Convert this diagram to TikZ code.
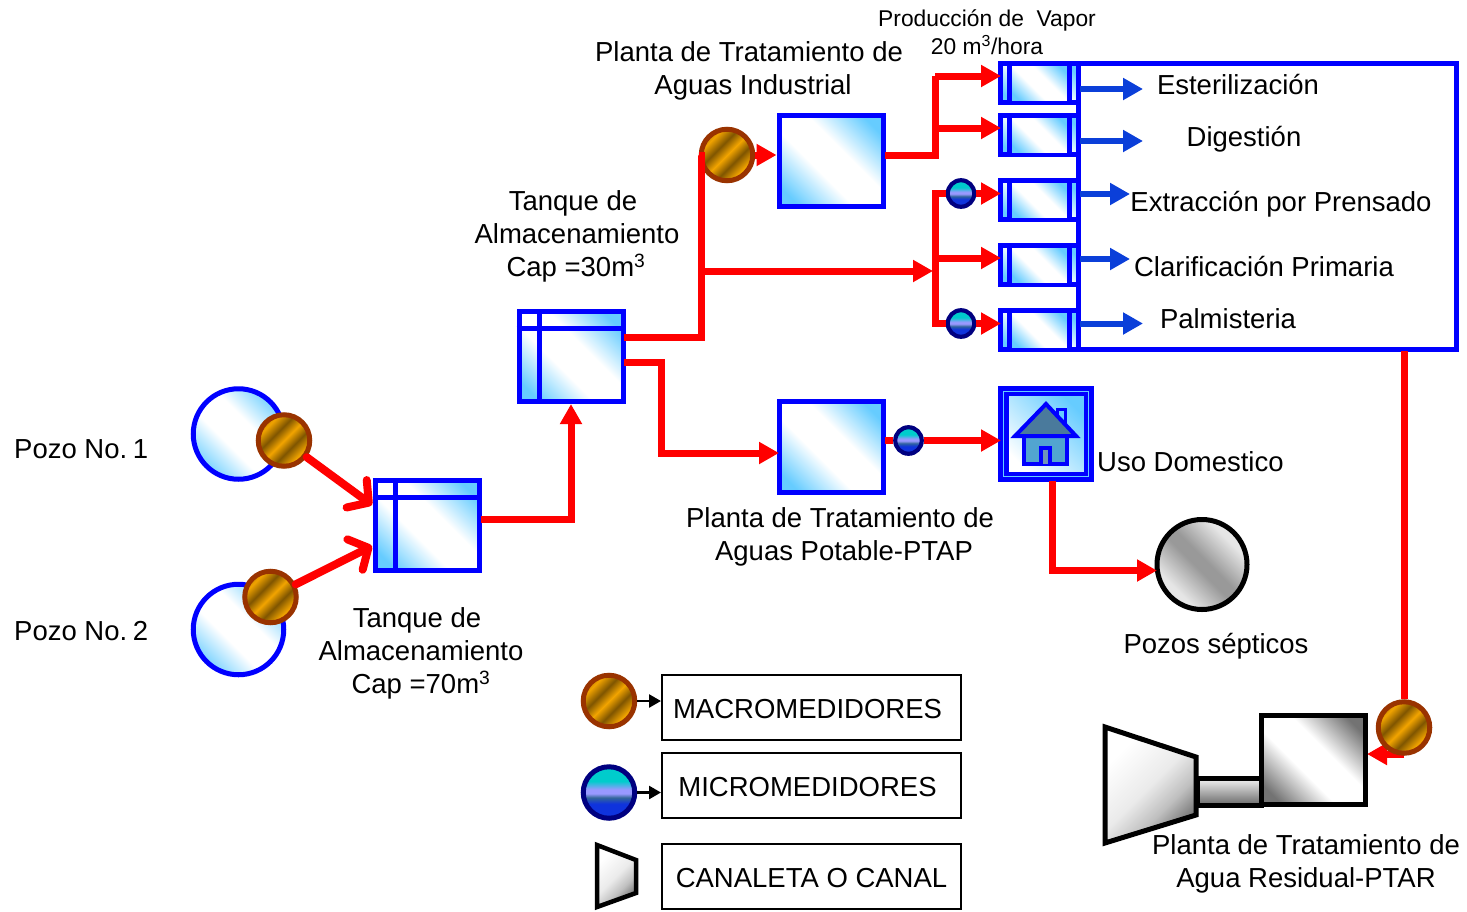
\documentclass[tikz,border=0pt]{standalone}
\usepackage{fontspec}
\setmainfont{Liberation Sans}
\usetikzlibrary{arrows.meta,calc,backgrounds}
\definecolor{lb}{HTML}{66CCFF}
\definecolor{gd}{HTML}{F2A400}
\definecolor{dk}{HTML}{7F5500}
\definecolor{flowred}{HTML}{FF0000}
\definecolor{boxblue}{HTML}{0000FF}
\definecolor{outblue}{HTML}{0B3FD9}
\definecolor{meterrim}{HTML}{993300}
\definecolor{navyrim}{HTML}{000080}
\definecolor{cy}{HTML}{00CCCC}
\definecolor{lv}{HTML}{9999FF}
\definecolor{st}{HTML}{336699}
\definecolor{bl}{HTML}{0F33DD}
\definecolor{roof}{HTML}{4A7A9C}
\definecolor{wall}{HTML}{52A5D0}
\pgfdeclareverticalshading{bluediag}{100bp}{color(0bp)=(lb);color(22bp)=(lb);color(42bp)=(white);color(58bp)=(white);color(78bp)=(lb);color(100bp)=(lb)}
\pgfdeclareverticalshading{blueup}{100bp}{color(0bp)=(white);color(25bp)=(white);color(75bp)=(lb);color(100bp)=(lb)}
\pgfdeclareverticalshading{graybox}{100bp}{color(0bp)=(black!55);color(22bp)=(black!55);color(42bp)=(white);color(58bp)=(white);color(78bp)=(black!55);color(100bp)=(black!55)}
\pgfdeclareverticalshading{graydisc}{100bp}{color(0bp)=(black!8);color(30bp)=(black!10);color(47bp)=(black!40);color(53bp)=(black!40);color(70bp)=(black!10);color(100bp)=(black!8)}
\pgfdeclareverticalshading{graypipe}{100bp}{color(0bp)=(black!60);color(25bp)=(black!60);color(75bp)=(black!5);color(100bp)=(black!5)}
\pgfdeclareverticalshading{graytrap}{100bp}{color(0bp)=(black!60);color(25bp)=(black!55);color(37bp)=(black!25);color(50bp)=(black!8);color(72bp)=(white);color(100bp)=(white)}
\pgfdeclareverticalshading{goldstripe}{100bp}{color(0bp)=(dk);color(19bp)=(dk);color(29bp)=(gd);color(40bp)=(dk);color(50bp)=(gd);color(60bp)=(dk);color(71bp)=(gd);color(81bp)=(dk);color(100bp)=(dk)}
\pgfdeclareverticalshading{microband}{100bp}{color(0bp)=(bl);color(25bp)=(bl);color(39bp)=(bl);color(45bp)=(st);color(49bp)=(lv);color(53bp)=(lv);color(61bp)=(cy);color(75bp)=(cy);color(100bp)=(cy)}
\tikzset{
  txt/.style={inner sep=0pt,align=center,font=\fontsize{27.5}{33}\selectfont},
  smalltxt/.style={inner sep=0pt,align=center,font=\fontsize{22.8}{28}\selectfont},
  bluebox/.style={draw=boxblue,line width=5pt,shade,shading=bluediag,shading angle=-45,rectangle,inner sep=0pt,minimum width=104pt,minimum height=91pt},
  wellc/.style={draw=boxblue,line width=5pt,shade,shading=bluediag,shading angle=-45,circle,inner sep=0pt,minimum size=90.5pt},
  macro/.style={draw=meterrim,line width=5pt,shade,shading=goldstripe,shading angle=45,circle,inner sep=0pt,minimum size=51.5pt},
  microbig/.style={draw=navyrim,line width=5pt,shade,shading=microband,circle,inner sep=0pt,minimum size=51.5pt},
  micro/.style={draw=navyrim,line width=4.2pt,shade,shading=microband,circle,inner sep=0pt,minimum size=26.5pt},
  legbox/.style={draw=black,line width=2pt,fill=white,rectangle,inner sep=0pt,minimum width=299pt,minimum height=65pt},
  flow/.style={draw=flowred,line width=7pt,-{Triangle[length=20pt,width=21pt]}},
  flowplain/.style={draw=flowred,line width=7pt},
  barb/.style={draw=flowred,line width=8pt,line cap=round,line join=round,-{Straight Barb[length=15pt,width=34pt,round]}},
  outflow/.style={draw=outblue,line width=6pt,-{Triangle[length=20pt,width=21pt]}},
  legarrow/.style={draw=black,line width=2.5pt,-{Triangle[length=12pt,width=13pt]}},
  innerline/.style={draw=boxblue,line width=5pt},
  blackline/.style={draw=black,line width=5pt,line join=miter}
}
\newcommand{\procbox}[2]{%
  \node[bluebox,minimum width=78.5pt,minimum height=39pt] (#1) at (1039.25,#2) {};
  \path[shade,shading=bluediag,shading angle=-45] ($(#1.center)+(-30,-17)$) rectangle ($(#1.center)+(30,17)$);
  \draw[innerline] ($(#1.north west)+(11.5,2)$) -- ($(#1.south west)+(11.5,-2)$);
  \draw[innerline] ($(#1.north east)+(-11.5,2)$) -- ($(#1.south east)+(-11.5,-2)$);
}
\begin{document}
\begin{tikzpicture}[x=1pt,y=-1pt]
\useasboundingbox (0,0) rectangle (1467,911);
% wells and tanks
\node[wellc] (w1) at (238.5,434) {};
\node[wellc] (w2) at (238.5,629.5) {};
\node[macro] (m1) at (284,440.5) {};
\node[macro] (m2) at (270.5,597) {};
\node[bluebox,minimum height=90pt] (t1) at (427.6,525.5) {};
\draw[innerline] (t1.west |- 0,497) -- (t1.east |- 0,497);
\draw[innerline] (395.5,480) -- (395.5,571);
\node[bluebox,minimum height=90.5pt] (t2) at (571,356.3) {};
\draw[innerline] (t2.west |- 0,328) -- (t2.east |- 0,328);
\draw[innerline] (539.5,311) -- (539.5,402);
% plants
\node[macro] (m3) at (727,155) {};
\node[bluebox] (p1) at (831,161) {};
\node[bluebox] (p2) at (831,447) {};
\node[micro] (u0) at (908.5,440.5) {};
\node[micro] (u1) at (961,193.5) {};
\node[micro] (u2) at (961,323.5) {};
% house
\node[draw=boxblue,line width=5pt,rectangle,inner sep=0pt,minimum width=90.5pt,minimum height=91pt,fill=lb] (h) at (1046,434) {};
\node[draw=boxblue,line width=4.5pt,rectangle,inner sep=0pt,minimum width=79.5pt,minimum height=80pt,shade,shading=blueup,shading angle=-45] (hi) at (h.center) {};
\draw[boxblue,line width=3.5pt,fill=wall] (1024,436) rectangle (1067,464);
\draw[boxblue,line width=3pt,fill=lb] (1057,409) rectangle (1065,425);
\draw[boxblue,line width=4pt,fill=roof,line join=miter] (1046,404) -- (1076,436) -- (1015,436) -- cycle;
\draw[boxblue,line width=3.5pt,fill=st!70] (1041,464) -- (1041,448) -- (1050,448) -- (1050,464);
% septic
\node[draw=black,line width=5pt,shade,shading=graydisc,shading angle=-45,circle,inner sep=0pt,minimum size=90pt] (s) at (1202,564.5) {};
% process block
\node[draw=boxblue,line width=5pt,fill=white,rectangle,inner sep=0pt,minimum width=377.5pt,minimum height=286.5pt] (big) at (1267.3,206.7) {};
\procbox{b1}{83}
\procbox{b2}{135.3}
\procbox{b3}{200.2}
\procbox{b4}{265.3}
\procbox{b5}{330.3}
% PTAR
\node[draw=black,line width=5pt,shade,shading=graypipe,rectangle,inner sep=0pt,minimum width=64pt,minimum height=27pt] (pipe) at (1229,792) {};
\node[draw=black,line width=5pt,shade,shading=graybox,shading angle=-45,rectangle,inner sep=0pt,minimum width=104pt,minimum height=89pt] (ptar) at (1313,759.5) {};
\coordinate (ta) at (1105,727);
\coordinate (tb) at (1196,757);
\coordinate (tc) at (1196,815);
\coordinate (td) at (1105,843);
\path[blackline,shade,shading=graytrap,shading angle=45,draw=black] (ta) -- (tb) -- (tc) -- (td) -- cycle;
\node[macro] (m4) at (1404,727.5) {};
% legend
\node[macro] (lm) at (609,701) {};
\node[microbig] (lu) at (609,792.5) {};
\coordinate (la) at (597,845);
\coordinate (lb) at (636,860);
\coordinate (lc) at (636,893);
\coordinate (ld) at (597,907);
\path[draw=black,line width=4.5pt,shade,shading=graytrap,shading angle=45] (la) -- (lb) -- (lc) -- (ld) -- cycle;
\node[legbox] (lb1) at (811.5,707.5) {};
\node[legbox] (lb2) at (811.5,785.5) {};
\node[legbox] (lb3) at (811.5,876.5) {};
\draw[legarrow] (lm) -- (lm -| lb1.west);
\draw[legarrow] (lu) -- (lu -| lb2.west);
% connectors
\coordinate (t1w) at (372,505);
\coordinate (t1x) at (372,546);
\draw[barb] (m1) -- (t1w);
\draw[barb] (m2) -- (t1x);
\coordinate (t1e) at (481,519);
\draw[flow] (t1e) -| (t2.south);
\coordinate (t2a) at (624,337);
\coordinate (t2b) at (624,362);
\coordinate (e1) at (701,155);
\draw[flowplain] (t2a) -| (e1) -- (m3);
\draw[flow] (m3) -- (p1.west |- m3);
\coordinate (e2) at (701,271);
\coordinate (bus2) at (933,271);
\draw[flow] (e2) -- (bus2);
\coordinate (p1e) at (885,155);
\coordinate (bus1) at (935,76);
\coordinate (bus1b) at (935,128);
\draw[flowplain] (p1e) -| (bus1);
\coordinate (b1in) at (1001,76);
\coordinate (b2in) at (1001,128);
\draw[flow] (bus1) -- (b1in);
\draw[flow] (bus1b) -- (b2in);
\coordinate (bus3) at (935,193.5);
\coordinate (bus4) at (935,323.5);
\coordinate (bus5) at (935,258);
\coordinate (b3in) at (1001,193.5);
\coordinate (b4in) at (1001,258);
\coordinate (b5in) at (1001,323.5);
\draw[flowplain] (u1) -| (bus4) -- (u2);
\draw[flow] (u1) -- (b3in);
\draw[flow] (bus5) -- (b4in);
\draw[flow] (u2) -- (b5in);
\coordinate (p2in) at (661,362);
\coordinate (p2t) at (779,453);
\draw[flow] (t2b) -| (661,453) -- (p2t);
\coordinate (p2e) at (885,440.5);
\draw[flowplain] (p2e) -- (u0);
\coordinate (hin) at (1001,440.5);
\draw[flow] (u0) -- (hin);
\coordinate (hb) at (1052,481);
\coordinate (sin) at (1157,570.5);
\draw[flow] (hb) |- (sin);
\coordinate (bo) at (1404,351);
\draw[flowplain] (bo) -- (m4);
\begin{scope}[on background layer]
\coordinate (pin) at (1367,754);
\draw[flow] (m4.center |- 0,754) -- (pin);
\end{scope}
% outflows
\coordinate (o1) at (1080,89);\coordinate (o1e) at (1143,89);
\coordinate (o2) at (1080,141);\coordinate (o2e) at (1143,141);
\coordinate (o3) at (1080,194);\coordinate (o3e) at (1130,194);
\coordinate (o4) at (1080,259);\coordinate (o4e) at (1130,259);
\coordinate (o5) at (1080,323.5);\coordinate (o5e) at (1143,323.5);
\draw[outflow] (o1) -- (o1e);
\draw[outflow] (o2) -- (o2e);
\draw[outflow] (o3) -- (o3e);
\draw[outflow] (o4) -- (o4e);
\draw[outflow] (o5) -- (o5e);
% labels
\node[txt,anchor=west] (tp1) at (14,449) {Pozo No.\kern-2pt\ 1};
\node[txt,anchor=west] (tp2) at (14,631) {Pozo No.\kern-2pt\ 2};
\node[txt] (tt1) at (421,653) {Tanque de\hspace*{8pt}\\Almacenamiento\\Cap =70m\textsuperscript{3}};
\node[txt] (tt2) at (577,236) {Tanque de\hspace*{8pt}\\Almacenamiento\\Cap =30m\textsuperscript{3}\hspace*{2pt}};
\node[txt] (tpi) at (751,70.5) {Planta de Tratamiento de\hspace*{4pt}\\\hspace*{4pt}Aguas Industrial};
\node[txt] (tpp) at (842,537) {Planta de Tratamiento de\hspace*{4pt}\\\hspace*{4pt}Aguas Potable-PTAP};
\node[smalltxt] (tv) at (987,32) {Producción de\ \ Vapor\\20 m\textsuperscript{3}/hora};
\node[txt] (l1) at (1238,85) {Esterilización};
\node[txt] (l2) at (1244,139) {Digestión};
\node[txt] (l3) at (1281,204) {Extracción por Prensado};
\node[txt] (l4) at (1264,267) {Clarificación Primaria};
\node[txt] (l5) at (1228,319) {Palmisteria};
\node[txt,anchor=west] (lu2) at (1097,462) {Uso Domestico};
\node[txt] (lps) at (1216,646) {Pozos sépticos};
\node[txt] (lpt) at (1306,863.5) {Planta de Tratamiento de\\Agua Residual-PTAR};
\node[txt] (tm1) at (807.5,709) {MACROMEDIDORES};
\node[txt] (tm2) at (807.5,787) {MICROMEDIDORES};
\node[txt] (tm3) at (811.5,878) {CANALETA O CANAL};
\end{tikzpicture}
\end{document}
